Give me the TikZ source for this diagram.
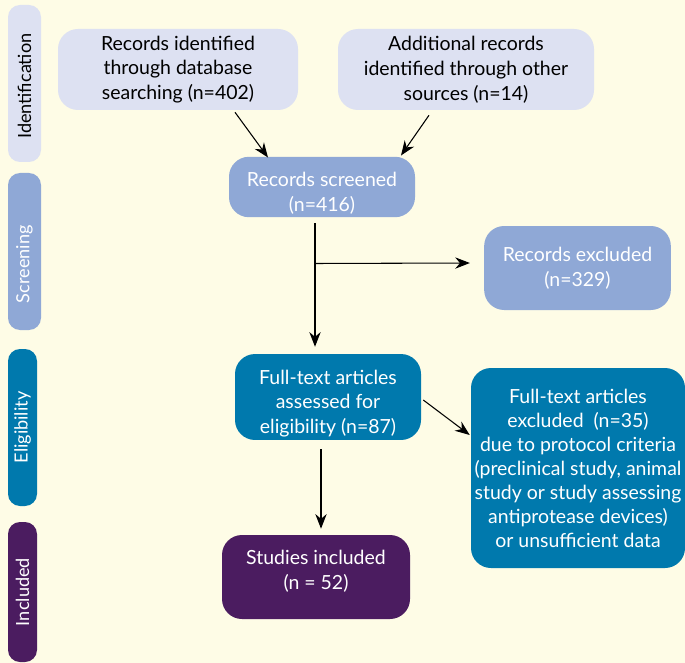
\documentclass[tikz,border=0pt]{standalone}
\usepackage{fontspec}
\setmainfont{Lato}
\usetikzlibrary{arrows.meta, positioning}
\definecolor{paper}{HTML}{FEFCE6}
\definecolor{lavender}{HTML}{DDE1F2}
\definecolor{midblue}{HTML}{8FA8D6}
\definecolor{deepblue}{HTML}{0079AD}
\definecolor{plum}{HTML}{4B1C60}
\tikzset{%
stage box/.style={
    rectangle, rounded corners=15pt,
    align=center, inner sep=2pt,
    font=\fontsize{14.6}{18.6}\selectfont
},
phase bar/.style={
    rectangle, rounded corners=9pt,
    inner sep=0pt, minimum width=24.75pt, minimum height=117.75pt,
    font=\fontsize{13.6}{16}\selectfont
},
flow/.style={-{Stealth[length=11pt,width=8.5pt]}, thick}
}

\begin{document}
\begin{tikzpicture}[x=0.75pt,y=-0.75pt]
\fill[paper] (0,0) rectangle (685,663);
\useasboundingbox (0,0) rectangle (685,663);

% phases
\node (identification) [phase bar, fill=lavender, text=black] at (24.5,83.5) {\rotatebox{90}{Identification\hspace*{4pt}}};
\node (screening) [phase bar, fill=midblue, text=white] at (24.5,251.5) {\rotatebox{90}{Screening\hspace*{19pt}}};
\node (eligibility) [phase bar, fill=deepblue, text=white, minimum width=21.75pt] at (22.5,427.5) {\rotatebox{90}{Eligibility}};
\node (included) [phase bar, fill=plum, text=white, minimum width=21.75pt, minimum height=105pt] at (22.5,592) {\rotatebox{90}{Included}};

% boxes
\node (database) [stage box, fill=lavender, minimum width=180pt, minimum height=60.75pt] at (178,69.5)
    {Records identified\\through database\\searching (n=402)};
\node (othersources) [stage box, fill=lavender, minimum width=192pt, minimum height=60.75pt] at (466,69.5)
    {Additional records\\identified through other\\sources (n=14)};
\node (screened) [stage box, fill=midblue, text=white, minimum width=139.5pt, minimum height=45pt] at (322,187)
    {\mbox{}\\[2pt]Records screened\\(n=416)};
\node (excluded) [stage box, fill=midblue, text=white, minimum width=140pt, minimum height=63pt] at (577.5,268)
    {Records excluded\\(n=329)};
\node (fulltext) [stage box, fill=deepblue, text=white, minimum width=139.5pt, minimum height=63pt] at (328,397)
    {\mbox{}\\[2pt]Full-text articles\\assessed for\\eligibility (n=87)};
\node (ftexcluded) [stage box, fill=deepblue, text=white, minimum width=160.5pt, minimum height=150pt,
    font=\fontsize{14.6}{18}\selectfont] at (578,468)
    {Full-text articles\\excluded~~(n=35)\\due to protocol criteria\\(preclinical study, animal\\study or study assessing\\antiprotease devices)\\or unsufficient data};
\node (studies) [stage box, fill=plum, text=white, minimum width=141pt, minimum height=63pt] at (316,577)
    {Studies included\\(n = 52)\\[-14pt]\strut};

% arrows
\draw[flow] ([shift={(57,2)}]database.south) -- ([shift={(-54,1)}]screened.north);
\draw[flow] ([shift={(-37,5)}]othersources.south) -- ([shift={(79,-1)}]screened.north);
\draw[flow] ([shift={(-7,6)}]screened.south) -- ([shift={(-13,-7)}]fulltext.north);
\draw[flow] ([shift={(-7,46)}]screened.south) -- ([shift={(-14,-5)}]excluded.west);
\draw[flow] ([shift={(-7,9)}]fulltext.south) -- ([shift={(5,-6)}]studies.north);
\draw[flow] ([shift={(2,3)}]fulltext.east) -- ([shift={(-1,-33)}]ftexcluded.west);
\end{tikzpicture}
\end{document}
